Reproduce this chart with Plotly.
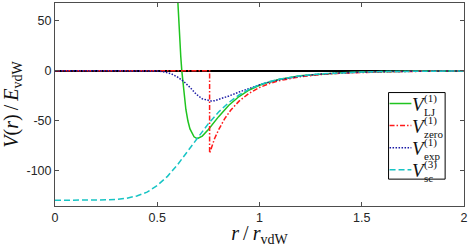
import plotly.graph_objects as go

# ---------------- data ----------------
r_lj = [0.600, 0.605, 0.610, 0.615, 0.620, 0.630, 0.640, 0.650, 0.660, 0.680, 0.690,
        0.700, 0.710, 0.720, 0.750, 0.800, 0.850, 0.900, 0.950, 1.000, 1.050, 1.100,
        1.200, 1.300, 1.400, 1.500, 1.600, 1.800, 2.000]
v_lj = [72.0, 49.9, 30.7, 14.2, 0.0, -22.6, -39.0, -50.6, -58.5, -66.5, -67.8,
        -67.9, -67.1, -65.7, -59.1, -46.2, -34.8, -26.0, -19.4, -14.6, -11.3, -8.6,
        -5.1, -3.2, -2.0, -1.35, -0.92, -0.45, -0.24]

r_zero = [0.0, 0.756, 0.756, 0.768, 0.780, 0.800, 0.830, 0.860, 0.900, 0.950, 1.000,
          1.050, 1.100, 1.200, 1.300, 1.400, 1.500, 1.600, 1.800, 2.000]
v_zero = [0.0, 0.0, -83.0, -74.7, -68.4, -59.4, -48.2, -39.5, -30.6, -22.6, -16.9,
          -12.8, -9.9, -6.05, -3.86, -2.54, -1.72, -1.20, -0.62, -0.34]

r_exp = [0.0, 0.45, 0.50, 0.54, 0.57, 0.60, 0.63, 0.66, 0.69, 0.72, 0.75, 0.765, 0.78,
         0.81, 0.85, 0.90, 0.95, 1.00, 1.05, 1.10, 1.20, 1.30, 1.40, 1.50, 1.60, 1.80, 2.00]
v_exp = [0.0, 0.0, -0.3, -1.5, -3.3, -6.5, -11.0, -16.8, -23.5, -28.3, -30.2, -30.5, -30.2,
         -28.5, -25.5, -21.5, -17.5, -14.2, -11.3, -8.9, -5.5, -3.4, -2.2, -1.45, -1.0, -0.5, -0.26]

r_sc = [0.0, 0.10, 0.20, 0.25, 0.30, 0.35, 0.40, 0.45, 0.50, 0.55, 0.60, 0.65, 0.70,
        0.75, 0.80, 0.85, 0.90, 0.95, 1.00, 1.05, 1.10, 1.20, 1.30, 1.40, 1.50, 1.60,
        1.80, 2.00]
v_sc = [-130.3, -130.3, -130.1, -129.8, -129.3, -128.2, -125.9, -122.1, -115.4, -106.2,
        -94.3, -80.6, -66.5, -53.2, -41.5, -32.0, -24.4, -18.6, -14.2, -10.9, -8.44,
        -5.14, -3.23, -2.09, -1.39, -0.95, -0.47, -0.25]

x_ticks = [0, 0.5, 1, 1.5, 2]
x_tick_labels = ["0", "0.5", "1", "1.5", "2"]
y_ticks = [-100, -50, 0, 50]
y_tick_labels = ["-100", "-50", "0", "50"]

series_sup = ["(1)", "(1)", "(1)", "(3)"]
series_sub = ["LJ", "zero", "exp", "sc"]
series_names = ["V_LJ^(1)", "V_zero^(1)", "V_exp^(1)", "V_sc^(3)"]

# ---------------- styles ----------------
colors = ["#1fc41f", "#ff1a1a", "#1a1aa6", "#17c4c4"]
dashes = ["solid", "5px,2px,1.5px,2px", "1.5px,1.5px", "6px,3px"]
LW = 1.5

W, H = 470, 247
ML, MR, MT, MB = 55, 3, 2, 41
PW, PH = W - ML - MR, H - MT - MB

def px2paper_x(px):
    return (px - ML) / PW

def px2paper_y(py):
    return (H - MB - py) / PH

fig = go.Figure()
xs = [r_lj, r_zero, r_exp, r_sc]
ys = [v_lj, v_zero, v_exp, v_sc]
for i in range(4):
    fig.add_trace(go.Scatter(x=xs[i], y=ys[i], mode="lines", name=series_names[i],
                             line=dict(color=colors[i], width=LW, dash=dashes[i]),
                             showlegend=False))

tick_font = dict(family="Liberation Sans, Arial, sans-serif", size=12.5, color="#262626")
axis_col = "#4d4d4d"
serif = "Liberation Serif, Times New Roman, serif"

fig.update_layout(
    width=W, height=H,
    margin=dict(l=ML, r=MR, t=MT, b=MB),
    plot_bgcolor="white", paper_bgcolor="white",
    xaxis=dict(range=[0, 2], tickmode="array", tickvals=x_ticks, ticktext=x_tick_labels,
               ticks="inside", ticklen=4, tickcolor=axis_col, showline=True, linecolor=axis_col,
               linewidth=1, mirror="ticks", showgrid=False, zeroline=False, tickfont=tick_font,
               ticklabeloverflow="allow",
               title=dict(text="<i>r</i>\u2009/\u2009<i>r</i><sub>vdW</sub>",
                          font=dict(family=serif, size=20, color="#111"),
                          standoff=2)),
    yaxis=dict(range=[-136, 68], tickmode="array", tickvals=y_ticks, ticktext=y_tick_labels,
               ticks="inside", ticklen=4, tickcolor=axis_col, showline=True, linecolor=axis_col,
               linewidth=1, mirror="ticks", showgrid=False, zeroline=True, zerolinecolor="black",
               zerolinewidth=1.8, tickfont=tick_font,
               title=dict(text="<i>V</i>(<i>r</i>)\u2009/\u2009<i>E</i><sub>vdW</sub>",
                          font=dict(family=serif, size=20, color="#111"),
                          standoff=4)),
)

# ---------------- legend (drawn manually to stack super/subscripts) ----------------
shapes = [dict(type="rect", xref="paper", yref="paper",
               x0=px2paper_x(391), x1=px2paper_x(448), y0=px2paper_y(179), y1=px2paper_y(92),
               line=dict(color="black", width=1), fillcolor="white", layer="above")]
annots = []
line_py = [103, 125, 147.5, 169.5]
for i in range(4):
    L = line_py[i]
    shapes.append(dict(type="line", xref="paper", yref="paper",
                       x0=px2paper_x(392), x1=px2paper_x(414), y0=px2paper_y(L), y1=px2paper_y(L),
                       line=dict(color=colors[i], width=LW, dash=dashes[i]), layer="above"))
    annots.append(dict(xref="paper", yref="paper", x=px2paper_x(414), y=px2paper_y(L + 1),
                       xanchor="left", yanchor="middle", showarrow=False, borderpad=0,
                       text="<i>V</i>", font=dict(family=serif, size=19, color="#111")))
    annots.append(dict(xref="paper", yref="paper", x=px2paper_x(426), y=px2paper_y(L + 1.3),
                       xanchor="left", yanchor="middle", showarrow=False, borderpad=0, align="left",
                       text=series_sup[i] + "<br>" + series_sub[i],
                       font=dict(family=serif, size=11, color="#111")))
fig.update_layout(shapes=shapes, annotations=annots)

fig.write_html("out.html", config={"displayModeBar": False},
               post_script="document.body.style.margin='0';")
